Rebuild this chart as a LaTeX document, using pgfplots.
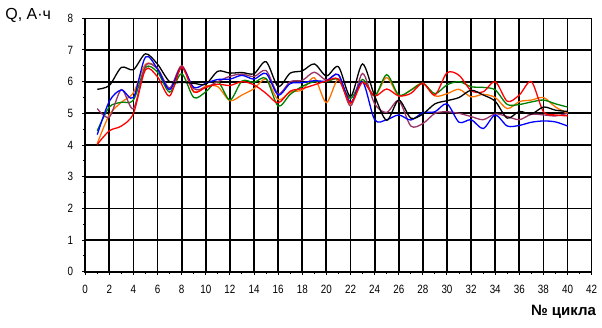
\documentclass[border=0pt]{standalone}
\usepackage{fontspec}
\setmainfont{Liberation Sans}
\newfontfamily\tickfont[FakeStretch=0.82]{Liberation Sans}
\usepackage{pgfplots}
\usepackage{pgfplotstable}
\pgfplotsset{compat=1.18}
\definecolor{cblack}{RGB}{0,0,0}
\definecolor{cred}{RGB}{255,0,0}
\definecolor{cgreen}{RGB}{0,128,0}
\definecolor{cblue}{RGB}{0,0,255}
\definecolor{corange}{RGB}{255,115,0}
\definecolor{cpurple}{RGB}{153,51,102}
\pgfplotstableread{
x k r g b o p
1 5.76 4.02 4.45 4.33 4.05 5.15
2 5.88 4.45 5.20 5.38 4.95 4.88
3 6.45 4.60 5.35 5.74 5.35 5.75
4 6.38 5.00 5.42 5.50 5.65 5.15
5 6.88 6.38 6.45 6.78 6.55 6.50
6 6.55 6.15 6.30 6.40 6.42 6.40
7 6.00 5.55 5.67 5.75 5.77 5.80
8 5.98 6.45 6.25 6.45 6.50 6.50
9 5.95 5.68 5.50 5.82 5.68 5.78
10 5.92 5.82 5.68 5.95 5.86 5.82
11 6.33 5.92 6.00 6.07 5.84 6.00
12 6.27 5.88 5.42 6.08 5.40 6.17
13 6.29 6.00 6.02 6.20 5.58 6.24
14 6.25 5.90 5.98 6.08 5.78 6.16
15 6.63 5.63 6.10 6.26 6.08 6.35
16 5.85 5.33 5.23 5.58 5.43 5.62
17 6.27 5.70 5.60 5.94 5.67 6.00
18 6.34 5.78 5.85 5.97 5.74 6.04
19 6.56 5.90 6.00 6.03 6.12 6.30
20 6.18 6.02 6.00 6.02 5.34 6.05
21 6.47 6.08 6.07 6.22 6.08 6.22
22 5.53 5.33 5.47 5.35 5.28 5.23
23 6.56 5.98 6.07 6.00 6.00 6.26
24 5.55 5.55 5.55 4.80 5.55 5.30
25 4.78 5.77 6.22 4.80 6.13 5.03
26 5.42 5.55 5.58 4.95 5.55 5.40
27 4.85 5.63 5.73 4.79 5.74 4.60
28 4.98 5.95 5.95 5.02 5.95 4.68
29 5.30 5.58 5.62 5.05 5.55 5.00
30 5.40 6.28 5.90 5.30 5.62 5.05
31 5.50 6.20 6.00 4.72 5.76 5.00
32 5.73 5.72 5.84 4.80 5.52 4.90
33 5.58 5.68 5.82 4.52 5.60 4.80
34 5.38 6.00 5.74 4.95 5.50 4.98
35 4.85 5.38 5.28 4.60 5.15 4.90
36 5.06 5.58 5.28 4.62 5.37 4.80
37 4.98 6.00 5.36 4.72 5.42 4.97
38 5.20 5.05 5.42 4.76 5.50 4.95
39 5.10 4.95 5.30 4.73 5.20 4.92
40 5.06 4.92 5.20 4.60 5.00 5.00
}\data
\begin{document}
\begin{tikzpicture}
\useasboundingbox (-85.2pt,-56.2pt) rectangle (516.8pt,271.8pt);
\begin{axis}[
  at={(0,0)}, anchor=south west,
  scale only axis, width=506.5pt, height=253.5pt,
  xmin=0, xmax=42, ymin=0, ymax=8,
  xtick={0,2,...,42}, ytick={0,1,...,8},
  minor xtick={1,3,...,41}, minor ytick={0.5,1.5,...,7.5},
  xtick pos=left, ytick pos=left,
  axis line style={draw=black, line width=1pt},
  tick align=outside,
  major tick length=3pt, minor tick length=2pt,
  tick style={draw=black, line width=1pt},
  /pgf/number format/assume math mode=true,
  ticklabel style={font=\tickfont\fontsize{12}{12}\selectfont},
  xticklabel style={anchor=north, inner sep=0pt, yshift=-10pt},
  yticklabel style={anchor=east, inner sep=0pt, xshift=-9pt},
]
\pgfplotsinvokeforeach{2,4,...,42}{
  \draw[black, line width=1.8pt] (axis cs:#1,0) -- (axis cs:#1,8);
}
\pgfplotsinvokeforeach{1,2,...,8}{
  \draw[black, line width=1.8pt] (axis cs:0,#1) -- (axis cs:42,#1);
}
\addplot[corange, line width=1.3pt, smooth, tension=0.5] table[x=x,y=o]{\data};
\addplot[cgreen, line width=1.3pt, smooth, tension=0.5] table[x=x,y=g]{\data};
\addplot[cpurple, line width=1.3pt, smooth, tension=0.5] table[x=x,y=p]{\data};
\addplot[cblue, line width=1.3pt, smooth, tension=0.5] table[x=x,y=b]{\data};
\addplot[cred, line width=1.3pt, smooth, tension=0.5] table[x=x,y=r]{\data};
\addplot[cblack, line width=1.3pt, smooth, tension=0.5] table[x=x,y=k]{\data};
\end{axis}
\draw[black, line width=1.8pt] (0pt,253.5pt) -- (0pt,0pt) -- (506.5pt,0pt);
\node[anchor=west, inner sep=0pt, font=\fontsize{16}{16}\selectfont] at (-80pt,256.5pt) {Q, А·ч};
\node[anchor=east, inner sep=0pt, font=\bfseries\fontsize{15}{15}\selectfont] at (511pt,-40.5pt) {№ цикла};
\end{tikzpicture}
\end{document}
